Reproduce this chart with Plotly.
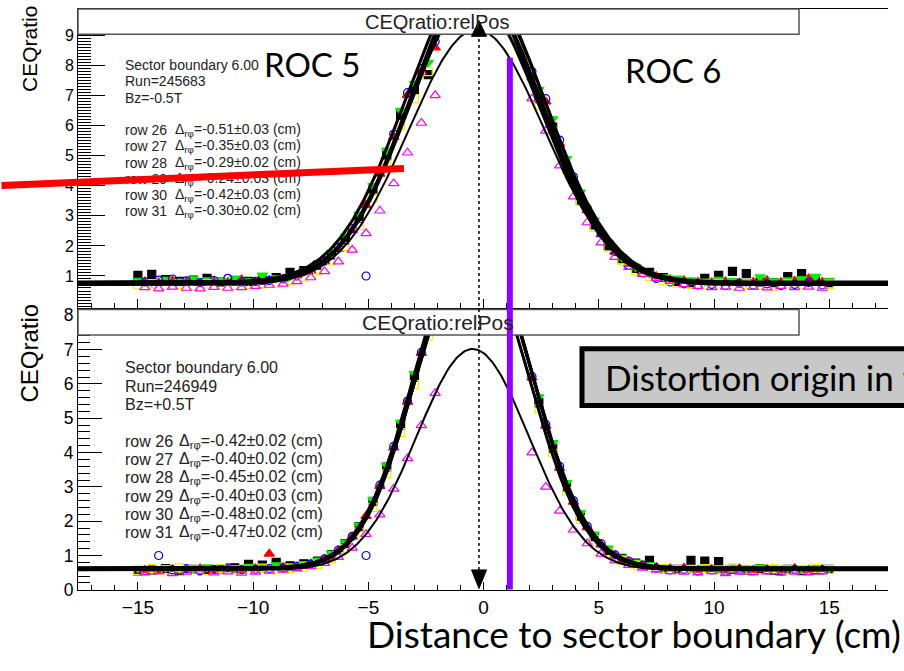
import numpy as np
import plotly.graph_objects as go

W, H = 904, 671


def px(x):
    return x / W


def py(y):
    return 1 - y / H


# pad positions in cm from the sector boundary (two interleaved pad grids)
X_A = [-15.0, -14.4, -13.8, -13.2, -12.6, -12.0, -11.4, -10.8, -10.2, -9.6, -9.0,
       -8.4, -7.8, -7.2, -6.6, -6.0, -5.4, -4.8, -4.2, -3.6, -3.0, -2.4,
       2.4, 3.0, 3.6, 4.2, 4.8, 5.4, 6.0, 6.6, 7.2, 7.8, 8.4, 9.0, 9.6, 10.2, 10.8,
       11.4, 12.0, 12.6, 13.2, 13.8, 14.4, 15.0]
X_B = [-14.7, -14.1, -13.5, -12.9, -12.3, -11.7, -11.1, -10.5, -9.9, -9.3, -8.7,
       -8.1, -7.5, -6.9, -6.3, -5.7, -5.1, -4.5, -3.9, -3.3, -2.7, -2.1,
       2.1, 2.7, 3.3, 3.9, 4.5, 5.1, 5.7, 6.3, 6.9, 7.5, 8.1, 8.7, 9.3, 9.9, 10.5,
       11.1, 11.7, 12.3, 12.9, 13.5, 14.1, 14.7]

ROWS = [26, 27, 28, 29, 30, 31]

# ---- Run 245683, Bz = -0.5 T : CE ratio per row ----
TOP_R26 = [1.02, 1.05, 0.88, 0.82, 0.86, 0.92, 0.80, 0.84, 0.82, 0.86, 0.95, 1.12, 1.18, 1.36, 1.70, 2.20, 2.92, 3.86, 5.02, 6.35, 7.20, 7.70,
           6.90, 5.95, 4.62, 3.52, 2.70, 2.00, 1.58, 1.25, 1.12, 0.95, 0.82, 0.78, 0.92, 1.02, 1.15, 1.08, 0.80, 0.78, 0.98, 1.08, 0.82, 0.78]
TOP_R27 = [0.82, 0.78, 0.85, 0.80, 0.76, 0.83, 0.79, 0.88, 0.80, 0.86, 0.90, 1.02, 1.18, 1.48, 1.90, 2.52, 3.35, 4.40, 5.62, 7.02, 7.80, 8.60,
           7.60, 6.80, 5.40, 4.20, 3.18, 2.38, 1.80, 1.40, 1.15, 0.98, 0.88, 0.85, 0.80, 0.78, 0.82, 0.77, 0.80, 0.86, 0.79, 0.83, 0.92, 0.80]
TOP_R28 = [0.85, 0.80, 0.88, 0.82, 0.90, 0.86, 0.84, 0.92, 0.83, 1.02, 0.93, 1.00, 1.15, 1.40, 1.78, 2.32, 3.05, 4.00, 5.18, 6.50, 7.40, 8.10,
           7.20, 6.22, 4.90, 3.78, 2.85, 2.12, 1.62, 1.30, 1.08, 0.96, 0.92, 0.86, 0.82, 0.88, 0.84, 0.80, 0.96, 0.83, 0.86, 0.90, 0.98, 0.85]
TOP_R29 = [0.80, 0.86, 0.90, 0.84, 0.78, 0.85, 0.92, 0.80, 0.82, 0.85, 0.90, 1.00, 1.20, 1.50, 1.95, 2.58, 1.00, 4.45, 5.72, 7.10, 7.90, 8.80,
           7.80, 6.90, 5.52, 4.30, 3.25, 2.42, 1.82, 1.35, 1.10, 0.92, 0.80, 0.74, 0.70, 0.72, 0.68, 0.76, 0.70, 0.74, 0.68, 0.72, 0.78, 0.70]
TOP_R30 = [0.70, 0.74, 0.68, 0.72, 0.66, 0.74, 0.70, 0.68, 0.72, 0.74, 0.76, 0.85, 0.96, 1.18, 1.50, 1.98, 2.68, 3.60, 4.72, 6.02, 6.90, 7.80,
           6.70, 5.82, 4.55, 3.48, 2.62, 1.96, 1.50, 1.18, 0.98, 0.84, 0.76, 0.72, 0.70, 0.74, 0.68, 0.72, 0.70, 0.66, 0.74, 0.70, 0.68, 0.72]
TOP_R31 = [0.62, 0.58, 0.64, 0.60, 0.58, 0.63, 0.60, 0.62, 0.66, 0.70, 0.74, 0.82, 0.95, 1.15, 1.48, 1.87, 2.42, 3.17, 4.08, 5.10, 6.09, 7.01,
           6.90, 5.83, 4.67, 3.64, 2.78, 2.11, 1.63, 1.29, 1.06, 0.92, 0.83, 0.72, 0.66, 0.62, 0.64, 0.60, 0.63, 0.61, 0.66, 0.62, 0.64, 0.60]

# ---- Run 246949, Bz = +0.5 T : CE ratio per row ----
BOT_R26 = [0.55, 0.58, 0.62, 0.56, 0.60, 0.57, 0.62, 0.64, 0.74, 0.72, 0.80, 0.70, 0.76, 0.84, 1.02, 1.35, 1.84, 2.58, 3.58, 4.80, 6.20, 7.62,
           5.45, 4.12, 3.00, 2.15, 1.55, 1.15, 0.92, 0.78, 0.86, 0.62, 0.60, 0.86, 0.84, 0.82, 0.60, 0.58, 0.62, 0.57, 0.60, 0.56, 0.58, 0.60]
BOT_R27 = [0.58, 0.54, 0.60, 0.57, 0.62, 0.56, 0.60, 0.58, 0.62, 1.05, 0.66, 0.68, 0.76, 0.90, 1.15, 1.55, 2.15, 3.02, 4.14, 5.48, 6.90, 8.30,
           6.18, 4.78, 3.55, 2.56, 1.82, 1.32, 1.00, 0.82, 0.72, 0.66, 0.62, 0.64, 0.58, 0.60, 0.56, 0.62, 0.58, 0.60, 0.56, 0.63, 0.58, 0.60]
BOT_R28 = [0.62, 0.58, 0.64, 0.60, 0.62, 0.66, 0.60, 0.64, 0.68, 0.66, 0.72, 0.70, 0.76, 0.86, 1.05, 1.38, 1.88, 2.62, 3.62, 4.88, 6.30, 7.75,
           5.62, 4.28, 3.12, 2.24, 1.62, 1.20, 0.94, 0.80, 0.72, 0.66, 0.64, 0.62, 0.66, 0.60, 0.64, 0.62, 0.66, 0.60, 0.63, 0.62, 0.65, 0.62]
BOT_R29 = [0.56, 1.00, 0.58, 0.62, 0.55, 0.60, 0.64, 0.58, 0.60, 0.62, 0.64, 0.68, 0.75, 0.90, 1.16, 1.56, 1.00, 3.05, 4.18, 5.50, 6.92, 8.32,
           6.22, 4.82, 3.60, 2.60, 1.85, 1.35, 1.02, 0.84, 0.72, 0.64, 0.58, 0.60, 0.55, 0.58, 0.54, 0.60, 0.56, 0.58, 0.55, 0.60, 0.56, 0.58]
BOT_R30 = [0.56, 0.62, 0.58, 0.64, 0.60, 0.56, 0.62, 0.58, 0.60, 0.63, 0.58, 0.62, 0.66, 0.74, 0.90, 1.20, 1.68, 2.40, 3.38, 4.58, 5.98, 7.40,
           5.28, 3.98, 2.88, 2.05, 1.46, 1.08, 0.85, 0.72, 0.65, 0.62, 0.58, 0.60, 0.62, 0.58, 0.64, 0.60, 0.57, 0.62, 0.58, 0.60, 0.62, 0.59]
BOT_R31 = [0.50, 0.54, 0.48, 0.52, 0.55, 0.50, 0.53, 0.49, 0.52, 0.55, 0.58, 0.62, 0.68, 0.78, 0.95, 1.22, 1.62, 2.19, 2.94, 3.83, 4.79, 5.73,
           4.00, 3.00, 2.30, 1.75, 1.35, 1.05, 0.85, 0.72, 0.64, 0.58, 0.54, 0.52, 0.50, 0.54, 0.48, 0.52, 0.50, 0.53, 0.49, 0.52, 0.50, 0.53]

# Gaussian fit parameters per row: mean (= Δrφ), amplitude, sigma, constant
TOP_MU = [-0.51, -0.35, -0.29, -0.24, -0.42, -0.30]
TOP_ERR = [0.03, 0.03, 0.02, 0.03, 0.03, 0.02]
TOP_AMP = [9.9, 9.8, 10.1, 9.9, 9.5, 8.5]
TOP_SIG = [2.92, 2.92, 2.90, 2.94, 2.92, 2.95]
TOP_C = [0.80, 0.76, 0.78, 0.74, 0.72, 0.70]

BOT_MU = [-0.42, -0.40, -0.45, -0.40, -0.48, -0.47]
BOT_ERR = [0.02, 0.02, 0.02, 0.03, 0.02, 0.02]
BOT_AMP = [9.7, 9.8, 9.9, 9.6, 9.4, 6.45]
BOT_SIG = [2.42, 2.40, 2.42, 2.45, 2.40, 2.43]
BOT_C = [0.64, 0.61, 0.63, 0.60, 0.62, 0.57]

TOP_DATA = [TOP_R26, TOP_R27, TOP_R28, TOP_R29, TOP_R30, TOP_R31]
BOT_DATA = [BOT_R26, BOT_R27, BOT_R28, BOT_R29, BOT_R30, BOT_R31]
ROW_X = [X_A, X_B, X_A, X_B, X_A, X_B]

# ROOT-like marker styles 21..26 with colours 1..6
SYMBOLS = ["square", "triangle-up", "triangle-down", "circle-open", "square-open", "triangle-up-open"]
COLORS = ["#000000", "#ff0000", "#00ee00", "#0000ff", "#eeee00", "#ff00ff"]
SIZES = [8, 9, 9, 8, 8, 9]
FIT_W = [3, 3, 3, 3, 3, 2]

X_RANGE = [-17.6, 17.55]
xf = np.linspace(X_RANGE[0], X_RANGE[1], 500)

ROOT_FONT = "Liberation Sans"
SLIDE_FONT = "Lato"

fig = go.Figure()

for data, mu, amp, sig, c, xa, ya in [
        (TOP_DATA, TOP_MU, TOP_AMP, TOP_SIG, TOP_C, "x", "y"),
        (BOT_DATA, BOT_MU, BOT_AMP, BOT_SIG, BOT_C, "x2", "y2")]:
    for i in range(6):
        fig.add_trace(go.Scatter(
            x=ROW_X[i], y=data[i], mode="markers", xaxis=xa, yaxis=ya,
            marker=dict(symbol=SYMBOLS[i], color=COLORS[i], size=SIZES[i],
                        line=dict(color=COLORS[i], width=1.2)),
            showlegend=False, hoverinfo="skip"))
    for i in range(6):
        yf = c[i] + amp[i] * np.exp(-(xf - mu[i]) ** 2 / (2 * sig[i] ** 2))
        fig.add_trace(go.Scatter(
            x=xf, y=yf, mode="lines", xaxis=xa, yaxis=ya,
            line=dict(color="black", width=FIT_W[i]),
            showlegend=False, hoverinfo="skip"))

axis_common = dict(showline=True, linecolor="black", linewidth=1, showgrid=False,
                   zeroline=False, ticks="inside", tickcolor="black")

fig.update_layout(
    width=W, height=H, margin=dict(l=0, r=0, t=0, b=0),
    paper_bgcolor="white", plot_bgcolor="white", showlegend=False,
    xaxis=dict(domain=[px(78), px(888)], range=X_RANGE, anchor="y", mirror=True,
               tickvals=[-15, -10, -5, 0, 5, 10, 15], ticklen=9, showticklabels=False,
               minor=dict(dtick=1, ticklen=5, ticks="inside", tickcolor="black"),
               **axis_common),
    yaxis=dict(domain=[py(310), py(5)], range=[-0.05, 9.886], anchor="x",
               tickvals=list(range(1, 10)), ticklen=27,
               minor=dict(dtick=0.1, ticklen=13, ticks="inside", tickcolor="black"),
               tickfont=dict(family=ROOT_FONT, size=16, color="black"),
               **axis_common),
    xaxis2=dict(domain=[px(78), px(888)], range=X_RANGE, anchor="y2", mirror=True,
                tickvals=[-15, -10, -5, 0, 5, 10, 15], ticklen=8,
                minor=dict(dtick=1, ticklen=5, ticks="inside", tickcolor="black"),
                tickfont=dict(family=ROOT_FONT, size=19, color="black"),
                **axis_common),
    yaxis2=dict(domain=[py(598.3), py(312)], range=[0, 8.17], anchor="x2",
                tickvals=list(range(0, 9)), ticklen=24,
                minor=dict(dtick=0.2, ticklen=12, ticks="inside", tickcolor="black"),
                tickfont=dict(family=ROOT_FONT, size=17.5, color="black"),
                **axis_common),
)

shapes = []
# histogram title boxes
for top, bot in [(5, 31), (312, 338)]:
    shapes.append(dict(type="rect", xref="paper", yref="paper", layer="above",
                       x0=px(78), x1=px(799), y0=py(bot), y1=py(top),
                       fillcolor="white", line=dict(color="#555555", width=1.5)))
# sector boundary marker: dotted line with arrow heads
shapes.append(dict(type="line", xref="x2", yref="paper", layer="above",
                   x0=-0.2, x1=-0.2, y0=py(578), y1=py(33),
                   line=dict(color="black", width=1.5, dash="dot")))
shapes.append(dict(type="path", xref="paper", yref="paper", layer="above",
                   path=f"M {px(479)} {py(17)} L {px(471.5)} {py(33)} L {px(486.5)} {py(33)} Z",
                   fillcolor="black", line=dict(color="black", width=1)))
shapes.append(dict(type="path", xref="paper", yref="paper", layer="above",
                   path=f"M {px(479)} {py(597)} L {px(471.5)} {py(578)} L {px(486.5)} {py(578)} Z",
                   fillcolor="black", line=dict(color="black", width=1)))
# distortion origin
shapes.append(dict(type="line", xref="x2", yref="paper", layer="above",
                   x0=1.14, x1=1.14, y0=py(598), y1=py(55),
                   line=dict(color="#8f00ff", width=6)))
shapes.append(dict(type="rect", xref="paper", yref="paper", layer="above",
                   x0=px(582), x1=px(930), y0=py(410), y1=py(352),
                   fillcolor="#c8c8c8", line=dict(color="black", width=5)))
fig.update_layout(shapes=shapes)

ann = []


def text(x, y, s, size, family=ROOT_FONT, color="black", xanchor="left", angle=0):
    ann.append(dict(x=px(x), y=py(y), xref="paper", yref="paper", text=s,
                    showarrow=False, xanchor=xanchor, yanchor="middle", textangle=angle,
                    font=dict(family=family, size=size, color=color)))


text(437, 18, "CEQratio:relPos", 20, xanchor="center", color="#222222")
text(438, 325, "CEQratio:relPos", 21, xanchor="center", color="#222222")

text(29, 46, "CEQratio", 21, xanchor="center", angle=-90)
text(30, 357, "CEQratio", 24, xanchor="center", angle=-90)

# fit summaries
for (y0, dy, run, bz, mu, err, size, xd) in [
        (62.3, 16.6, "245683", "-0.5T", TOP_MU, TOP_ERR, 14, 173),
        (371.7, 18.7, "246949", "+0.5T", BOT_MU, BOT_ERR, 16, 177)]:
    text(123, y0, "Sector boundary 6.00", size, color="#222222")
    text(123, y0 + dy, f"Run={run}", size, color="#222222")
    text(123, y0 + 2 * dy, f"Bz={bz}", size, color="#222222")
    for k, row in enumerate(ROWS):
        yy = y0 + (4 + k) * dy
        text(123, yy, f"row {row}", size, color="#222222")
        text(xd, yy, f"Δ<sub>rφ</sub>={mu[k]:.2f}±{err[k]:.2f} (cm)", size, color="#222222")

text(262, 61, "ROC 5", 33, family=SLIDE_FONT)
text(623, 67, "ROC 6", 33, family=SLIDE_FONT)
text(603, 381, "Distortion origin in the sector boundary region", 35, family=SLIDE_FONT)
text(365, 643, "Distance to sector boundary (cm)", 37, family=SLIDE_FONT)

# red pointer line across the fit summary
ann.append(dict(x=px(404), y=py(168), xref="paper", yref="paper", text="",
                showarrow=True, arrowhead=0, arrowwidth=7, arrowcolor="#ff0000",
                ax=-420, ay=17, standoff=0, startstandoff=0))

fig.update_layout(annotations=ann)

fig.write_html("out.html")
